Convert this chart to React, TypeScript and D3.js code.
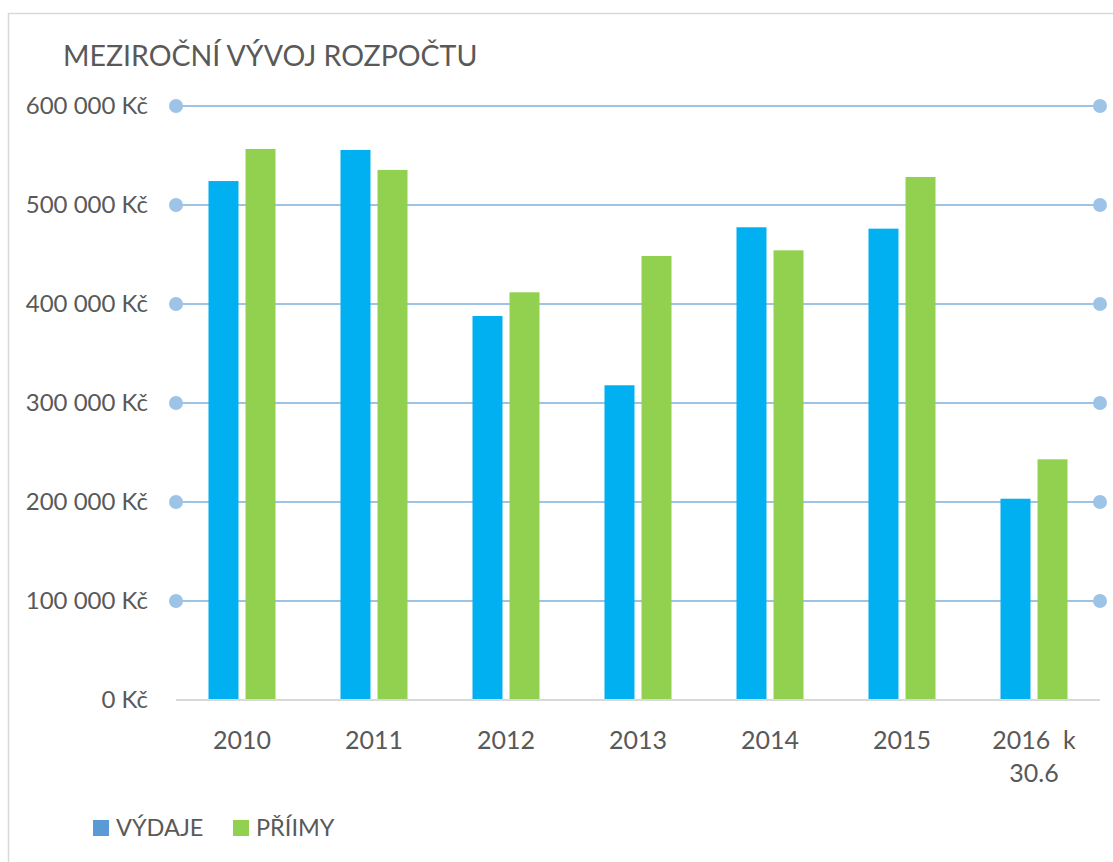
import React from "react";
import * as d3 from "d3";

const categories = ["2010", "2011", "2012", "2013", "2014", "2015", "2016  k|30.6"];
const vydaje = [524200, 555600, 387900, 317900, 477500, 476100, 203300];
const prijmy = [556600, 535400, 411800, 448500, 454200, 528300, 243100];
const yTicks = [0, 100000, 200000, 300000, 400000, 500000, 600000];
const seriesNames = ["VÝDAJE", "PŘÍIMY"];
const barColors = ["#00B0F0", "#92D050"];
const legendColors = ["#5B9BD5", "#92D050"];

const W = 1113;
const H = 862;
const FONT = "Lato, 'Open Sans', sans-serif";
const TEXT = "#595959";

export default function App() {
  const x = d3.scaleBand<string>().domain(categories).range([176, 1100]).padding(0);
  const y = d3.scaleLinear().domain([0, 600000]).range([700, 106]);
  const inner = d3.scaleBand<string>().domain(["a", "b"]).range([-33.5, 33.5]).paddingInner(0.19);
  const fmt = (v: number) => d3.format(",")(v).replace(/,/g, " ") + " Kč";
  const series = [vydaje, prijmy];

  return (
    <svg width={W} height={H} style={{ position: "absolute", left: 0, top: 0 }}>
      <rect x={8.5} y={13.5} width={W + 10} height={H} fill="#fff" stroke="#D9D9D9" strokeWidth={1.5} />
      <text x={63} y={66} fontFamily={FONT} fontSize={28.5} fill={TEXT}>
        MEZIROČNÍ VÝVOJ ROZPOČTU
      </text>
      {yTicks.map((t) =>
        t === 0 ? null : (
          <g key={t}>
            <line x1={x.range()[0]} x2={x.range()[1]} y1={y(t)} y2={y(t)} stroke="#9DC3E6" strokeWidth={2} />
            <circle cx={x.range()[0]} cy={y(t)} r={7} fill="#9DC3E6" />
            <circle cx={x.range()[1]} cy={y(t)} r={7} fill="#9DC3E6" />
          </g>
        )
      )}
      {yTicks.map((t) => (
        <text key={"l" + t} x={148} y={y(t)} dy="0.35em" textAnchor="end" fontFamily={FONT} fontSize={24} fill={TEXT}>
          {fmt(t)}
        </text>
      ))}
      {categories.map((c, i) => {
        const cx = (x(c) as number) + x.bandwidth() / 2;
        return (
          <g key={c}>
            {series.map((s, j) => {
              const k = j === 0 ? "a" : "b";
              return (
                <rect
                  key={j}
                  x={cx + (inner(k) as number)}
                  y={y(s[i])}
                  width={inner.bandwidth()}
                  height={y(0) - y(s[i])}
                  fill={barColors[j]}
                />
              );
            })}
          </g>
        );
      })}
      <line x1={x.range()[0]} x2={x.range()[1]} y1={y(0)} y2={y(0)} stroke="#D9D9D9" strokeWidth={2} />
      {categories.map((c) => {
        const cx = (x(c) as number) + x.bandwidth() / 2;
        const lines = c.split("|");
        return (
          <text key={"x" + c} x={cx} y={749} textAnchor="middle" fontFamily={FONT} fontSize={25} fill={TEXT} style={{ whiteSpace: "pre" }}>
            {lines.map((ln, k) => (
              <tspan key={k} x={cx} dy={k === 0 ? 0 : 33}>
                {ln}
              </tspan>
            ))}
          </text>
        );
      })}
      {seriesNames.map((n, i) => {
        const lx = i === 0 ? 93 : 233;
        return (
          <g key={n}>
            <rect x={lx} y={820} width={16} height={16} fill={legendColors[i]} />
            <text x={lx + 23} y={836} fontFamily={FONT} fontSize={23.5} fill={TEXT}>
              {n}
            </text>
          </g>
        );
      })}
    </svg>
  );
}
